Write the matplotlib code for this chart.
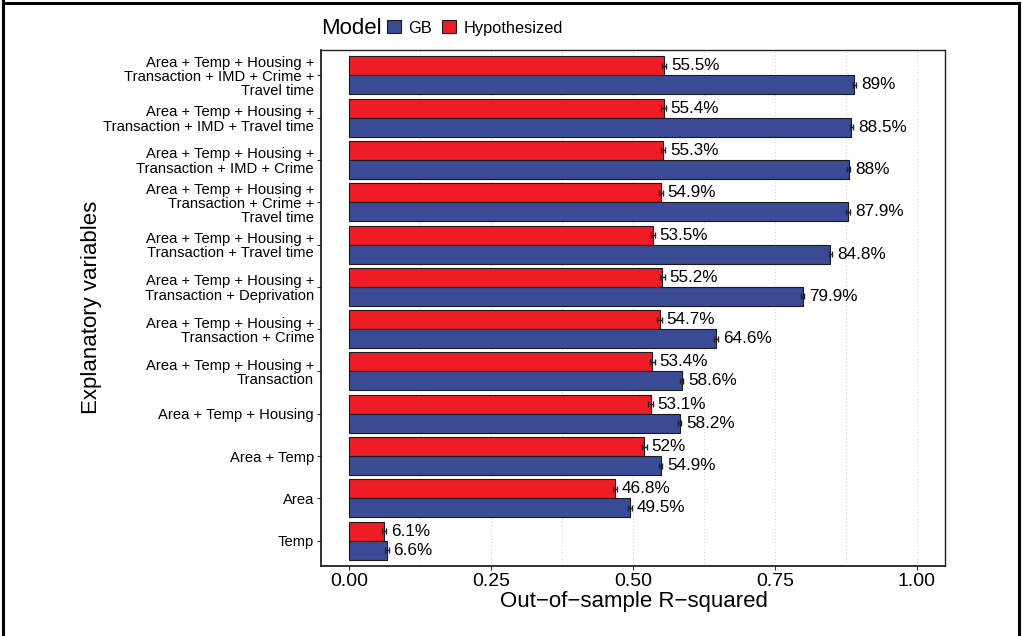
import matplotlib
matplotlib.use("Agg")
import matplotlib.pyplot as plt
import numpy as np
from matplotlib.patches import Patch
from matplotlib.lines import Line2D

plt.rcParams['font.family'] = ['Liberation Sans', 'DejaVu Sans']

# categories, bottom to top
categories = [
    "Temp",
    "Area",
    "Area + Temp",
    "Area + Temp + Housing",
    "Area + Temp + Housing +\nTransaction",
    "Area + Temp + Housing +\nTransaction + Crime",
    "Area + Temp + Housing +\nTransaction + Deprivation",
    "Area + Temp + Housing +\nTransaction + Travel time",
    "Area + Temp + Housing +\nTransaction + Crime +\nTravel time",
    "Area + Temp + Housing +\nTransaction + IMD + Crime",
    "Area + Temp + Housing +\nTransaction + IMD + Travel time",
    "Area + Temp + Housing +\nTransaction + IMD + Crime +\nTravel time",
]
gb_values = [0.066, 0.495, 0.549, 0.582, 0.586, 0.646, 0.799, 0.848, 0.879, 0.880, 0.885, 0.890]
hyp_values = [0.061, 0.468, 0.520, 0.531, 0.534, 0.547, 0.552, 0.535, 0.549, 0.553, 0.554, 0.555]
gb_labels = ["6.6%", "49.5%", "54.9%", "58.2%", "58.6%", "64.6%", "79.9%", "84.8%", "87.9%", "88%", "88.5%", "89%"]
hyp_labels = ["6.1%", "46.8%", "52%", "53.1%", "53.4%", "54.7%", "55.2%", "53.5%", "54.9%", "55.3%", "55.4%", "55.5%"]
gb_err = [0.003] * 12
hyp_err = [0.004] * 12
x_ticks = [0.0, 0.25, 0.5, 0.75, 1.0]
x_ticklabels = ["0.00", "0.25", "0.50", "0.75", "1.00"]

gb_color = "#3B4A95"
hyp_color = "#EE1D25"

fig = plt.figure(figsize=(10.22, 6.36), dpi=100)
ax = fig.add_axes([321 / 1022, 1 - 566 / 636, (945 - 321) / 1022, (566 - 50) / 636])

y = np.arange(len(categories))
h = 0.45
ax.barh(y + h / 2, hyp_values, height=h, color=hyp_color, edgecolor="#1a1a1a", linewidth=0.8, zorder=3)
ax.barh(y - h / 2, gb_values, height=h, color=gb_color, edgecolor="#1a1a1a", linewidth=0.8, zorder=3)
ax.errorbar(hyp_values, y + h / 2, xerr=hyp_err, fmt="none", ecolor="#222222", elinewidth=1.0, capsize=2.2, zorder=4)
ax.errorbar(gb_values, y - h / 2, xerr=gb_err, fmt="none", ecolor="#222222", elinewidth=1.0, capsize=2.2, zorder=4)

for i in range(len(categories)):
    ax.text(hyp_values[i] + 0.012, y[i] + h / 2, hyp_labels[i], ha="left", va="center", fontsize=12.3)
    ax.text(gb_values[i] + 0.012, y[i] - h / 2, gb_labels[i], ha="left", va="center", fontsize=12.3)

ax.set_xlim(-0.05, 1.05)
ax.set_ylim(-0.6, len(categories) - 0.4)
ax.set_yticks(y)
ax.set_yticklabels(categories, fontsize=10.6, linespacing=1.03)
ax.set_xticks(x_ticks)
ax.set_xticklabels(x_ticklabels, fontsize=14)
ax.set_xticks(np.arange(0.125, 1.0, 0.25), minor=True)
ax.tick_params(axis="x", which="minor", length=0)
ax.tick_params(axis="both", which="major", length=3, width=0.8, color="#333333")
ax.tick_params(axis="x", pad=2)
ax.tick_params(axis="y", pad=2)
ax.grid(axis="x", which="both", linestyle=(0, (1, 2)), color="#d9d9d9", linewidth=0.8, zorder=0)
for s in ax.spines.values():
    s.set_linewidth(1.0)
    s.set_color("#222222")
ax.spines["left"].set_linewidth(1.3)
ax.spines["bottom"].set_linewidth(1.3)

fig.text(634 / 1022, 1 - 602 / 636, "Out\u2212of\u2212sample R\u2212squared", ha="center", va="center", fontsize=16)
fig.text(92 / 1022, 1 - 307 / 636, "Explanatory variables", ha="center", va="center", rotation=90, fontsize=16)

# legend
fig.text(321 / 1022, 1 - 28 / 636, "Model", ha="left", va="center", fontsize=16)
handles = [Patch(facecolor=gb_color, edgecolor="#1a1a1a", linewidth=0.8),
           Patch(facecolor=hyp_color, edgecolor="#1a1a1a", linewidth=0.8)]
fig.legend(handles, ["GB", "Hypothesized"], loc="center left", bbox_to_anchor=(387 / 1022, 1 - 28 / 636),
           ncol=2, frameon=False, fontsize=11.8, handlelength=0.85, handleheight=0.85,
           handletextpad=0.45, columnspacing=0.6, borderaxespad=0, borderpad=0)

# figure border
for xs, ys in [([3, 3], [0, 636]), ([3, 1019], [3, 3]), ([1019, 1019], [3, 636])]:
    fig.add_artist(Line2D([v / 1022 for v in xs], [1 - v / 636 for v in ys], color="black", linewidth=2.2))

fig.savefig("out.png", dpi=100)
